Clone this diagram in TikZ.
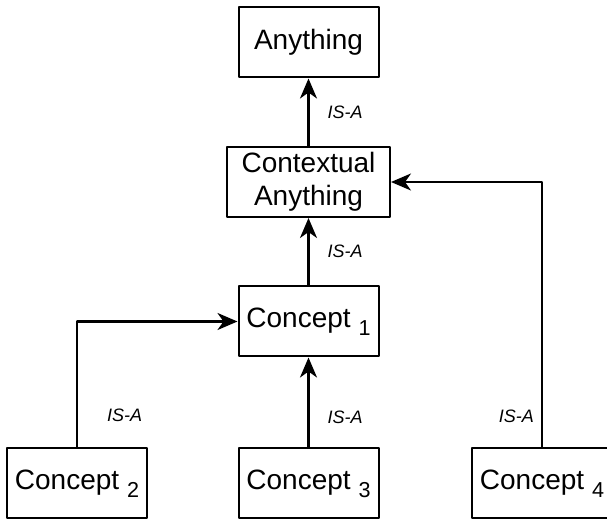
\documentclass[tikz,border=0pt]{standalone}
\usepackage{fontspec}
\setmainfont{Liberation Sans}
\usetikzlibrary{positioning,arrows.meta}

\newcommand{\idx}[1]{\raisebox{-4pt}{\fontsize{10.8pt}{12pt}\selectfont #1}}

\begin{document}
\begin{tikzpicture}[x=0.5pt,y=-0.5pt, font=\fontsize{14pt}{16.5pt}\selectfont, line cap=round, line join=round]
	% ===== khung =====
	\useasboundingbox (0,0) rectangle (607,519);
	
	% ===== style =====
	\tikzset{
		concept/.style={draw, line width=1pt, minimum width=70pt, minimum height=35pt, inner sep=2pt, align=center},
		isa/.style={font=\fontsize{9pt}{10pt}\selectfont\itshape, inner sep=1pt},
		isarrow/.style={-{Stealth[length=10pt,width=8.5pt,inset=3pt]}, line width=1.1pt}
	}
	
	% ===== các khái niệm =====
	\node[concept] (anything) at (308.5,42.5) {Anything};
	\node[concept, minimum width=81.5pt] (ctx) at (308.5,182) {Contextual\\Anything};
	\node[concept] (c1) at (308.5,321.5) {Concept \idx{1}};
	\node[concept] (c2) at (77,483.5) {Concept \idx{2}};
	\node[concept] (c3) at (308.5,483.5) {Concept \idx{3}};
	\node[concept] (c4) at (542,483.5) {Concept \idx{4}};
	
	% ===== quan hệ IS-A =====
	\draw[isarrow] (ctx) -- node[isa, right=8pt] {IS-A} (anything);
	\draw[isarrow] (c1) -- node[isa, right=8pt] {IS-A} (ctx);
	\draw[isarrow] (c3) -- node[isa, pos=0.34, right=8pt] {IS-A} (c1);
	\draw[isarrow] (c2.north) |- node[isa, pos=0.126, right=13.5pt] {IS-A} (c1.west);
	\draw[isarrow] (c4.north) |- node[isa, pos=0.058, left=2.5pt] {IS-A} (ctx.east);
	
\end{tikzpicture}
\end{document}
